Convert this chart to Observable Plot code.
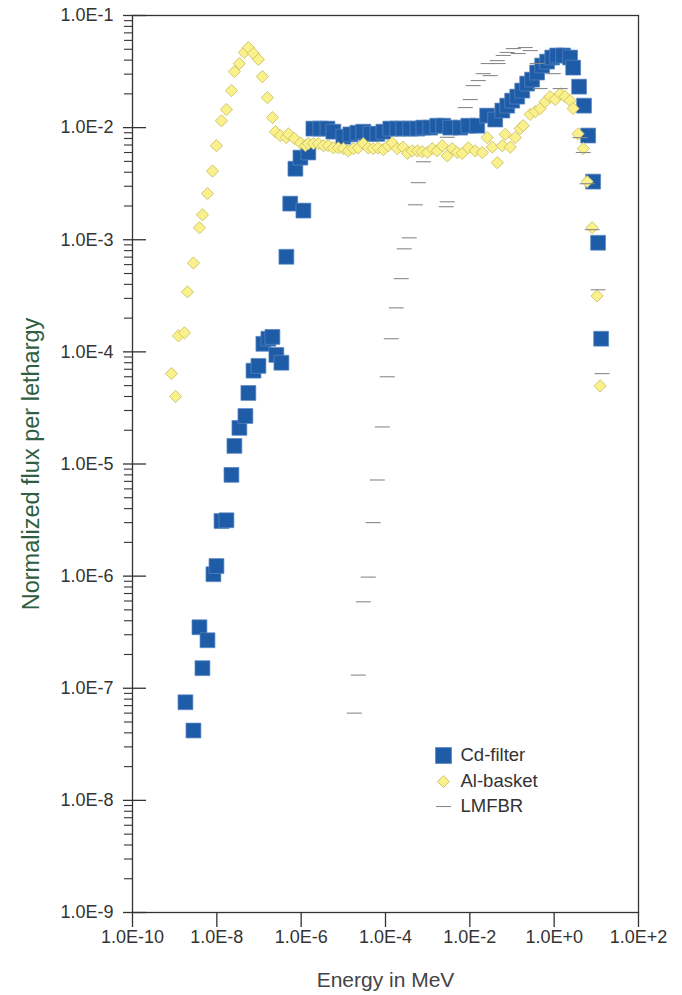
<!DOCTYPE html>
<html><head><meta charset="utf-8">
<script src="https://cdn.jsdelivr.net/npm/d3@7"></script>
<script src="https://cdn.jsdelivr.net/npm/@observablehq/plot@0.6"></script>
<style>body{margin:0;background:#fff;}</style>
</head><body><div id="chart"></div>
<script>
// [energy (MeV), normalized flux per lethargy]
const cdFilter = [
 [1.8e-9,7.5e-8],[2.79e-9,4.2e-8],[3.87e-9,3.5e-7],[4.56e-9,1.51e-7],[6.0e-9,2.68e-7],
 [8.3e-9,1.04e-6],[9.8e-9,1.23e-6],[1.29e-8,3.1e-6],[1.69e-8,3.15e-6],[2.22e-8,8.0e-6],
 [2.61e-8,1.45e-5],[3.43e-8,2.1e-5],[4.76e-8,2.68e-5],[5.6e-8,4.3e-5],[7.4e-8,6.8e-5],
 [9.7e-8,7.5e-5],[1.27e-7,1.18e-4],[1.67e-7,1.31e-4],[2.08e-7,1.36e-4],[2.58e-7,9.4e-5],
 [3.4e-7,8.0e-5],[4.46e-7,7.05e-4],[5.5e-7,2.1e-3],[7.3e-7,4.3e-3],[9.6e-7,5.4e-3],
 [1.13e-6,1.82e-3],[1.48e-6,6.0e-3],[1.95e-6,9.8e-3],[2.85e-6,9.8e-3],[4.2e-6,9.8e-3],
 [5.8e-6,9.2e-3],[1.0e-5,8.3e-3],[1.47e-5,8.7e-3],[2.15e-5,9.0e-3],[2.98e-5,9.2e-3],
 [4.4e-5,8.8e-3],[6.4e-5,8.8e-3],[8.9e-5,9.2e-3],[1.3e-4,9.8e-3],[1.9e-4,9.8e-3],
 [2.64e-4,9.8e-3],[3.87e-4,9.8e-3],[5.7e-4,9.8e-3],[7.9e-4,1.0e-2],[1.15e-3,1.0e-2],
 [1.69e-3,1.04e-2],[2.34e-3,1.04e-2],[3.43e-3,1.0e-2],[5.9e-3,1.0e-2],[9.2e-3,1.04e-2],
 [1.5e-2,1.04e-2],[2.58e-2,1.28e-2],[4.0e-2,1.18e-2],[5.9e-2,1.42e-2],[7.7e-2,1.57e-2],
 [0.101,1.74e-2],[0.133,1.89e-2],[0.175,2.14e-2],[0.229,2.47e-2],[0.30,2.68e-2],
 [0.395,3.1e-2],[0.52,3.58e-2],[0.68,3.88e-2],[0.90,4.22e-2],[1.18,4.4e-2],
 [1.63,4.4e-2],[2.39,4.22e-2],[2.82,3.43e-2],[3.9,2.32e-2],[5.1,1.57e-2],
 [6.4,8.5e-3],[8.4,3.3e-3],[11.0,9.4e-4],[13.0,1.31e-4]
];
const alBasket = [
 [8.4e-10,6.4e-5],[1.05e-9,4.0e-5],[1.23e-9,1.39e-4],[1.71e-9,1.48e-4],[2.01e-9,3.43e-4],
 [2.79e-9,6.2e-4],[3.87e-9,1.28e-3],[4.56e-9,1.67e-3],[6.0e-9,2.58e-3],[7.9e-9,4.1e-3],
 [9.8e-9,6.9e-3],[1.29e-8,1.15e-2],[1.69e-8,1.45e-2],[2.22e-8,2.14e-2],[2.61e-8,3.16e-2],
 [3.43e-8,3.73e-2],[4.5e-8,4.68e-2],[5.6e-8,5.18e-2],[7.4e-8,4.58e-2],[9.7e-8,4.05e-2],
 [1.2e-7,2.85e-2],[1.58e-7,1.85e-2],[2.08e-7,1.23e-2],[2.45e-7,9.2e-3],[3.2e-7,8.5e-3],
 [4.46e-7,8.15e-3],[5.0e-7,8.8e-3],[6.9e-7,8.0e-3],[9.6e-7,7.3e-3],[1.26e-6,6.9e-3],
 [1.48e-6,7.2e-3],[1.95e-6,7.2e-3],[2.56e-6,7.2e-3],[3.36e-6,6.9e-3],[4.4e-6,6.9e-3],
 [5.8e-6,6.6e-3],[7.6e-6,6.6e-3],[1.0e-5,6.5e-3],[1.31e-5,6.2e-3],[1.73e-5,6.5e-3],
 [2.26e-5,6.6e-3],[2.98e-5,7.2e-3],[3.9e-5,6.6e-3],[5.1e-5,6.5e-3],[6.7e-5,6.6e-3],
 [8.9e-5,6.35e-3],[1.16e-4,6.9e-3],[1.45e-4,7.3e-3],[1.9e-4,6.5e-3],[2.6e-4,6.7e-3],
 [3.3e-4,5.9e-3],[4.3e-4,6.2e-3],[5.7e-4,6.2e-3],[7.4e-4,6.1e-3],[9.8e-4,6.0e-3],
 [1.29e-3,6.5e-3],[1.69e-3,6.2e-3],[2.22e-3,6.9e-3],[2.91e-3,5.6e-3],[3.83e-3,6.5e-3],
 [5.0e-3,6.0e-3],[6.6e-3,5.9e-3],[9.2e-3,6.6e-3],[1.34e-2,6.2e-3],[1.97e-2,6.0e-3],
 [2.58e-2,8.15e-3],[3.4e-2,6.7e-3],[4.46e-2,4.87e-3],[5.9e-2,6.9e-3],[6.9e-2,8.7e-3],
 [9.1e-2,6.7e-3],[0.119,8.15e-3],[0.156,9.8e-3],[0.184,1.04e-2],[0.27,1.31e-2],
 [0.355,1.39e-2],[0.466,1.48e-2],[0.61,1.70e-2],[0.80,1.89e-2],[1.06,1.78e-2],
 [1.39,2.0e-2],[1.82,1.89e-2],[2.39,1.74e-2],[2.82,1.48e-2],[3.7,8.8e-3],
 [4.9,6.5e-3],[6.05,3.3e-3],[7.95,1.28e-3],[10.4,3.16e-4],[12.3,4.97e-5]
];
const lmfbr = [
 [1.82e-5,6.0e-8],[2.26e-5,1.31e-7],[2.98e-5,5.9e-7],[3.9e-5,9.8e-7],[5.1e-5,3.0e-6],
 [6.4e-5,7.2e-6],[8.4e-5,2.14e-5],[1.1e-4,6.0e-5],[1.37e-4,1.31e-4],[1.8e-4,2.47e-4],
 [2.37e-4,4.5e-4],[2.79e-4,8.3e-4],[3.66e-4,1.04e-3],[5.1e-4,2.05e-3],[6.0e-4,3.23e-3],
 [7.9e-4,4.96e-3],[2.76e-3,1.97e-3],[2.91e-3,2.18e-3],[2.91e-3,8.2e-3],[7.8e-3,1.51e-2],
 [1.02e-2,1.78e-2],[1.2e-2,2.37e-2],[1.58e-2,2.63e-2],[2.08e-2,3.03e-2],[2.73e-2,3.73e-2],
 [3.04e-2,2.91e-2],[4.46e-2,3.96e-2],[4.7e-2,3.73e-2],[6.2e-2,4.4e-2],[7.7e-2,4.68e-2],
 [0.107,5.07e-2],[0.14,4.58e-2],[0.206,5.18e-2],[0.27,4.87e-2],[0.395,3.73e-2],
 [0.466,2.23e-2],[0.95,3.03e-2],[1.39,2.23e-2],[4.1,8.15e-3],[4.9,6.0e-3],
 [6.05,3.16e-3],[7.95,1.23e-3],[11.0,3.58e-4],[13.7,6.4e-5]
];
const seriesNames = ["Cd-filter", "Al-basket", "LMFBR"];
const xTicks = [1e-10, 1e-8, 1e-6, 1e-4, 1e-2, 1, 1e2];
const xTickLabels = ["1.0E-10","1.0E-8","1.0E-6","1.0E-4","1.0E-2","1.0E+0","1.0E+2"];
const yTicks = [1e-9, 1e-8, 1e-7, 1e-6, 1e-5, 1e-4, 1e-3, 1e-2, 1e-1];
const yTickLabels = ["1.0E-9","1.0E-8","1.0E-7","1.0E-6","1.0E-5","1.0E-4","1.0E-3","1.0E-2","1.0E-1"];
const xTitle = "Energy in MeV";
const yTitle = "Normalized flux per lethargy";

const yMinor = [];
for (let e = -9; e < -1; e++) for (let k = 2; k <= 9; k++) yMinor.push(+(k * Math.pow(10, e)).toPrecision(3));

const dash = {draw(ctx, size) { const r = Math.sqrt(size / Math.PI); ctx.moveTo(-r, 0); ctx.lineTo(r, 0); }};

const W = 682, H = 995, ML = 132, MR = 44, MT = 15, MB = 83;
const FW = W - ML - MR;
const blue = "#1f5ca8", blueEdge = "#5a86c2", yel = "#faf08c", yelEdge = "#c4ba5c", gray = "#8a8a8a";
const font = "Liberation Sans, Arial, Helvetica, sans-serif";
const legendRowY = [740, 766, 791];
const legendSym = ["square", "diamond2", dash];
const legendR = [9, 5.4, 7.5];
const legendFill = [blue, yel, "none"];
const legendStroke = [blueEdge, yelEdge, gray];

const legendMarks = seriesNames.flatMap((name, i) => [
  Plot.dot([name], {frameAnchor: "top-left", dx: 311, dy: legendRowY[i], symbol: legendSym[i], r: legendR[i],
    fill: legendFill[i], stroke: legendStroke[i], strokeWidth: i === 2 ? 1.1 : 0.8}),
  Plot.text([name], {frameAnchor: "top-left", dx: 328, dy: legendRowY[i], textAnchor: "start", lineAnchor: "middle",
    fontSize: 18.5, fill: "#333"})
]);

const chart = Plot.plot({
  width: W, height: H, marginLeft: ML, marginRight: MR, marginTop: MT, marginBottom: MB,
  style: {fontFamily: font, background: "#fff", color: "#333", overflow: "visible"},
  x: {type: "log", domain: [1e-10, 1e2]},
  y: {type: "log", domain: [1e-9, 1e-1]},
  marks: [
    Plot.frame({stroke: "#333", strokeWidth: 1.3}),
    Plot.ruleY(yMinor, {y: d => d, insetLeft: -8, insetRight: FW, stroke: "#333", strokeWidth: 1.1}),
    Plot.ruleY(yTicks, {y: d => d, insetLeft: -9, insetRight: FW - 14, stroke: "#333", strokeWidth: 1.3}),
    Plot.axisY({ticks: yTicks, tickSize: 0, tickPadding: 19, fontSize: 18, fill: "#333", label: null,
      tickFormat: d => yTickLabels[yTicks.indexOf(d)]}),
    Plot.axisX({ticks: xTicks, tickSize: 15, tickPadding: 3, fontSize: 18, fill: "#333", stroke: "#333", strokeWidth: 1.3, label: null,
      tickFormat: d => xTickLabels[xTicks.indexOf(d)]}),
    Plot.dot(cdFilter, {x: d => d[0], y: d => d[1], symbol: "square", r: 8.4, fill: blue, stroke: blueEdge, strokeWidth: 0.7}),
    Plot.dot(alBasket, {x: d => d[0], y: d => d[1], symbol: "diamond2", r: 5.5, fill: yel, stroke: yelEdge, strokeWidth: 0.8}),
    Plot.dot(lmfbr, {x: d => d[0], y: d => d[1], symbol: dash, r: 7.5, fill: "none", stroke: gray, strokeWidth: 1.1}),
    ...legendMarks,
    Plot.text([xTitle], {frameAnchor: "bottom", dy: 68, textAnchor: "middle", lineAnchor: "middle", fontSize: 21, fill: "#444"}),
    Plot.text([yTitle], {frameAnchor: "left", dx: -101, rotate: -90, textAnchor: "middle", lineAnchor: "middle", fontSize: 23.5, fill: "#2f5e42"})
  ]
});
document.getElementById("chart").appendChild(chart);
</script>
</body></html>
